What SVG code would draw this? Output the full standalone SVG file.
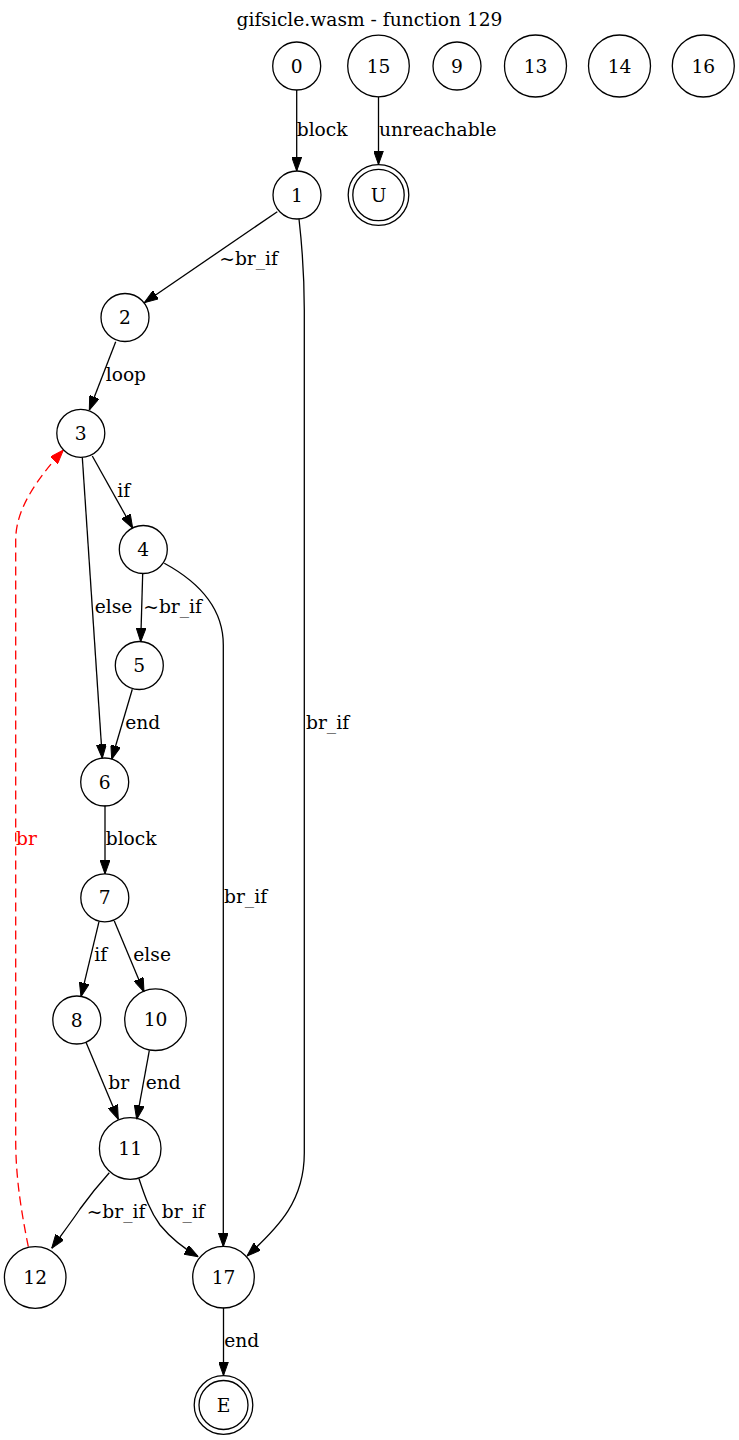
<svg xmlns="http://www.w3.org/2000/svg" width="739" height="1440" viewBox="0 0 739 1440">
<style>
text{font-family:"DejaVu Serif","Liberation Serif",serif;font-size:18.67px;fill:#000}
.n circle{fill:none;stroke:#000;stroke-width:1.3}
.n text{text-anchor:middle}
.e path{fill:none;stroke:#000;stroke-width:1.3}
.e path.r{stroke:#ff0000;stroke-dasharray:9,5}
text.r{fill:#ff0000}
</style>
<defs>
<marker id="a" viewBox="0 0 14 10" refX="14" refY="5" markerWidth="14" markerHeight="10" orient="auto" markerUnits="userSpaceOnUse"><path d="M0,0 L14,5 L0,10 z" fill="#000" stroke="#000" stroke-width="1"/></marker>
<marker id="ar" viewBox="0 0 14 10" refX="14" refY="5" markerWidth="14" markerHeight="10" orient="auto" markerUnits="userSpaceOnUse"><path d="M0,0 L14,5 L0,10 z" fill="#ff0000" stroke="#ff0000" stroke-width="1"/></marker>
</defs>
<rect width="739" height="1440" fill="#fff"/>
<text x="369.5" y="26" text-anchor="middle">gifsicle.wasm - function 129</text>
<g id="edges" class="e">
<path d="M296.7,90 L296.7,171" marker-end="url(#a)"/>
<path d="M378.5,96.7 L378.5,164.5" marker-end="url(#a)"/>
<path d="M277.3,211.7 L144.3,302.7" marker-end="url(#a)"/>
<path d="M115.7,341.7 L89.3,410" marker-end="url(#a)"/>
<path d="M92.3,456 L132.7,528.3" marker-end="url(#a)"/>
<path d="M82.3,457.3 L102.3,758.3" marker-end="url(#a)"/>
<path d="M142.7,573.3 L140.7,641.7" marker-end="url(#a)"/>
<path d="M132.3,689.3 L111.7,759.3" marker-end="url(#a)"/>
<path d="M105,805.5 L105,874" marker-end="url(#a)"/>
<path d="M99,921.7 L81,996.7" marker-end="url(#a)"/>
<path d="M114.3,921 L144,992" marker-end="url(#a)"/>
<path d="M86,1042.3 L118.3,1119.3" marker-end="url(#a)"/>
<path d="M149.3,1050.7 L136.7,1119.3" marker-end="url(#a)"/>
<path d="M109.3,1172.7 C100,1183 90,1195 80,1209 C72,1221 62,1234 51.7,1248.3" marker-end="url(#a)"/>
<path d="M139,1178.7 C145,1197 150,1211 160,1225 C170,1237 183,1248 198.3,1256.7" marker-end="url(#a)"/>
<path d="M164.3,563.3 C195,580 223.3,605 223.3,645 L223.3,1246.7" marker-end="url(#a)"/>
<path d="M299,219 C302.5,250 304.3,280 304.3,310 L304.3,1153 C304.3,1200 280,1226 247,1256" marker-end="url(#a)"/>
<path d="M223.5,1307.7 L223.5,1375.5" marker-end="url(#a)"/>
<path class="r" d="M28.3,1246.7 C22,1215 15.7,1180 15.7,1140 L15.7,540 C15.7,508 38,478 63.3,450" marker-end="url(#ar)"/>
<text x="296.7" y="136">block</text>
<text x="379" y="136">unreachable</text>
<text x="219.3" y="264.5">~br_if</text>
<text x="105.7" y="380.7">loop</text>
<text x="117.3" y="496.7">if</text>
<text x="94.7" y="612.7">else</text>
<text x="143.3" y="612.7">~br_if</text>
<text x="125.3" y="729">end</text>
<text x="306" y="729">br_if</text>
<text x="105.7" y="845">block</text>
<text class="r" x="16" y="845">br</text>
<text x="224" y="903">br_if</text>
<text x="94.3" y="961">if</text>
<text x="133.3" y="961">else</text>
<text x="108.3" y="1089">br</text>
<text x="145.7" y="1089">end</text>
<text x="86.7" y="1218">~br_if</text>
<text x="161.7" y="1218">br_if</text>
<text x="224.3" y="1347">end</text>
</g>
<g id="n0" class="n"><circle cx="296.7" cy="66" r="24"/><text x="296.7" y="72.5">0</text></g>
<g id="n15" class="n"><circle cx="378.5" cy="66" r="30.8"/><text x="378.5" y="72.5">15</text></g>
<g id="n9" class="n"><circle cx="457" cy="66" r="24"/><text x="457" y="72.5">9</text></g>
<g id="n13" class="n"><circle cx="535.5" cy="66" r="31"/><text x="535.5" y="72.5">13</text></g>
<g id="n14" class="n"><circle cx="619.5" cy="66" r="31"/><text x="619.5" y="72.5">14</text></g>
<g id="n16" class="n"><circle cx="703.3" cy="66" r="31"/><text x="703.3" y="72.5">16</text></g>
<g id="n1" class="n"><circle cx="297" cy="195" r="24"/><text x="297" y="201.5">1</text></g>
<g id="nU" class="n"><circle cx="378.5" cy="195" r="30.3"/><circle cx="378.5" cy="195" r="25.7"/><text x="378.5" y="201.5">U</text></g>
<g id="n2" class="n"><circle cx="125" cy="317.5" r="24"/><text x="125" y="324">2</text></g>
<g id="n3" class="n"><circle cx="80.8" cy="433.3" r="24"/><text x="80.8" y="439.8">3</text></g>
<g id="n4" class="n"><circle cx="143.3" cy="549.5" r="24"/><text x="143.3" y="556">4</text></g>
<g id="n5" class="n"><circle cx="139.3" cy="665.5" r="24"/><text x="139.3" y="672">5</text></g>
<g id="n6" class="n"><circle cx="104.7" cy="782" r="24"/><text x="104.7" y="788.5">6</text></g>
<g id="n7" class="n"><circle cx="104.8" cy="897.8" r="24"/><text x="104.8" y="904.3">7</text></g>
<g id="n8" class="n"><circle cx="76.8" cy="1020" r="24"/><text x="76.8" y="1026.5">8</text></g>
<g id="n10" class="n"><circle cx="155.5" cy="1019.7" r="30.8"/><text x="155.5" y="1026.2">10</text></g>
<g id="n11" class="n"><circle cx="130.2" cy="1148.5" r="30.8"/><text x="130.2" y="1155">11</text></g>
<g id="n12" class="n"><circle cx="35.2" cy="1277.5" r="30.8"/><text x="35.2" y="1284">12</text></g>
<g id="n17" class="n"><circle cx="223.5" cy="1277.2" r="30.8"/><text x="223.5" y="1283.7">17</text></g>
<g id="nE" class="n"><circle cx="223.5" cy="1405" r="29.3"/><circle cx="223.5" cy="1405" r="24.5"/><text x="223.5" y="1411.5">E</text></g>
</svg>
